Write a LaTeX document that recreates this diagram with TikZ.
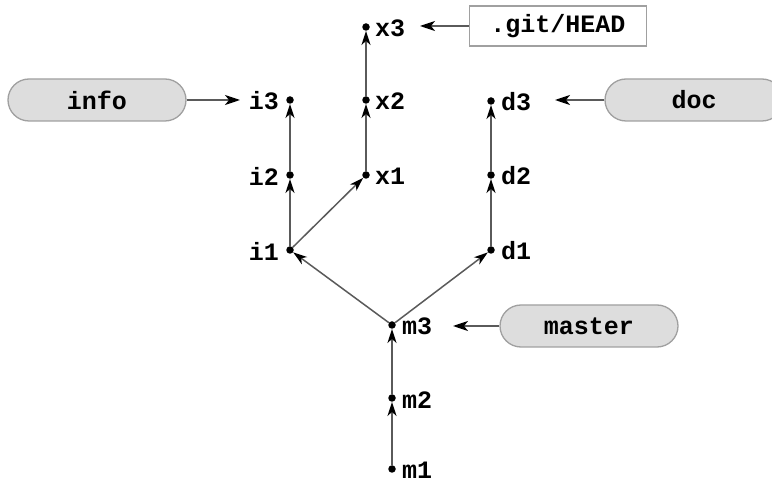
\documentclass[tikz,border=0pt]{standalone}
\usepackage{fontspec}
\newfontfamily\cf{Liberation Mono}
\usetikzlibrary{arrows.meta}
\definecolor{linegray}{HTML}{5A5A5A}
\definecolor{boxfill}{HTML}{DDDDDD}
\definecolor{boxline}{HTML}{A0A0A0}
\begin{document}
\begin{tikzpicture}[x=1pt,y=-1pt,
  commit/.style={circle,fill=black,inner sep=0pt,minimum size=7.5pt},
  lbl/.style={font=\cf\bfseries\fontsize{25}{28}\selectfont,inner sep=0pt},
  edge/.style={draw=linegray,line width=1.5pt,-{Stealth[black,length=14pt,width=9pt,inset=4pt]}},
  refbox/.style={draw=boxline,fill=boxfill,line width=1.3pt,rounded corners=21pt,minimum width=178pt,minimum height=42pt,inner sep=0pt,font=\cf\bfseries\fontsize{25}{28}\selectfont},
  headbox/.style={draw=boxline,fill=white,line width=1.3pt,minimum width=177pt,minimum height=40pt,inner sep=0pt,font=\cf\bfseries\fontsize{25}{28}\selectfont},
  ptr/.style={draw=linegray,line width=1.5pt,-{Stealth[black,length=15pt,width=10pt,inset=4pt]}}]
\useasboundingbox (0,0) rectangle (772,486);
\clip (0,0) rectangle (772,486);
% commits
\node[commit] (m1) at (392,469) {};
\node[commit] (m2) at (392,398) {};
\node[commit] (m3) at (392,325) {};
\node[commit] (i1) at (290,250) {};
\node[commit] (i2) at (290,175) {};
\node[commit] (i3) at (290,100) {};
\node[commit] (x1) at (366,175) {};
\node[commit] (x2) at (366,100) {};
\node[commit] (x3) at (366,27) {};
\node[commit] (d1) at (491,250) {};
\node[commit] (d2) at (491,175) {};
\node[commit] (d3) at (491,101) {};
% labels
\node[lbl,anchor=west] (lm1) at (402,470) {m1};
\node[lbl,anchor=west] (lm2) at (402,400) {m2};
\node[lbl,anchor=west] (lm3) at (402,326) {m3};
\node[lbl,anchor=west] (lx1) at (375,176) {x1};
\node[lbl,anchor=west] (lx2) at (375,101) {x2};
\node[lbl,anchor=west] (lx3) at (375,28) {x3};
\node[lbl,anchor=west] (ld1) at (501,251) {d1};
\node[lbl,anchor=west] (ld2) at (501,176) {d2};
\node[lbl,anchor=west] (ld3) at (501,102) {d3};
\node[lbl,anchor=east] (li1) at (279,251) {i1};
\node[lbl,anchor=east] (li2) at (279,176) {i2};
\node[lbl,anchor=east] (li3) at (279,101) {i3};
% edges
\draw[edge] (m1) -- (m2.south);
\draw[edge] (m2) -- (m3.south);
\draw[edge] (m3) -- (i1);
\draw[edge] (m3) -- (d1);
\draw[edge] (i1) -- (i2.south);
\draw[edge] (i2) -- (i3.south);
\draw[edge] (i1) -- (x1);
\draw[edge] (x1) -- (x2.south);
\draw[edge] (x2) -- (x3.south);
\draw[edge] (d1) -- (d2.south);
\draw[edge] (d2) -- (d3.south);
% refs
\node[refbox] (info) at (97,100) {info};
\node[refbox] (doc) at (694,100) {doc};
\node[refbox] (master) at (589,326) {master};
\node[headbox] (head) at (558,26) {.git/HEAD};
\coordinate (tinfo) at (240,100);
\coordinate (tdoc) at (555,100);
\coordinate (tmaster) at (453,326);
\coordinate (thead) at (420,26);
\draw[ptr] (info) -- (tinfo);
\draw[ptr] (doc) -- (tdoc);
\draw[ptr] (master) -- (tmaster);
\draw[ptr] (head) -- (thead);
\end{tikzpicture}
\end{document}
